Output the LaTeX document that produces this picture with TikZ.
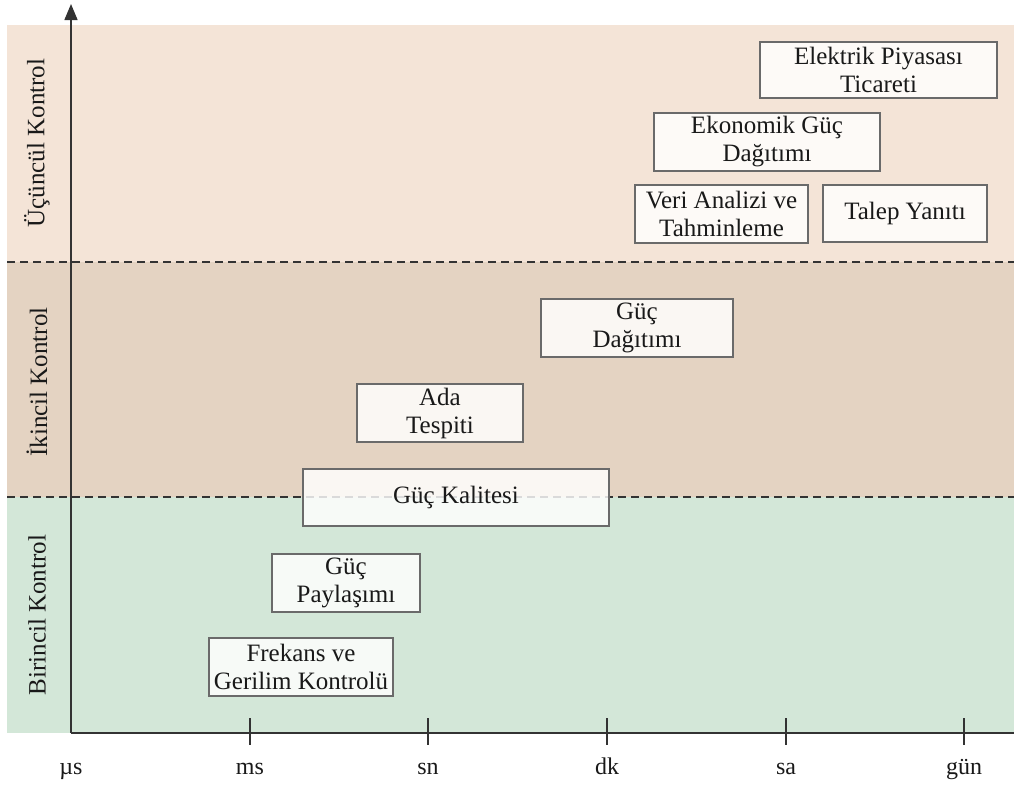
\documentclass[tikz,border=0pt]{standalone}
\usepackage{fontspec}
\setmainfont{Liberation Serif}
\usetikzlibrary{arrows.meta}
\definecolor{bandtop}{HTML}{F4E4D7}
\definecolor{bandmid}{HTML}{E4D3C2}
\definecolor{bandlow}{HTML}{D3E7D8}
\definecolor{boxline}{HTML}{6A6A6A}
\definecolor{axisline}{HTML}{333333}
\begin{document}
\begin{tikzpicture}[x=1pt,y=-1pt,
  task/.style={draw=boxline,line width=1.4pt,fill=white,fill opacity=0.82,text opacity=1,
    rectangle,inner sep=0pt,align=center,font=\fontsize{25}{28}\selectfont,text=black!90},
  level/.style={rotate=90,font=\fontsize{25}{28}\selectfont,text=black!90},
  tick/.style={line width=1.5pt,draw=axisline},
  ticklabel/.style={font=\fontsize{24}{28}\selectfont,text=black!90,anchor=base},
  divider/.style={line width=1.5pt,draw=axisline,dash pattern=on 8pt off 5pt}]
\useasboundingbox (0,0) rectangle (1014,785);
% control level bands
\fill[bandtop] (7,25) rectangle (1014,262);
\fill[bandmid] (7,262) rectangle (1014,497);
\fill[bandlow] (7,497) rectangle (1014,733);
\draw[divider] (7,262) -- (1014,262);
\draw[divider] (7,497) -- (1014,497);
% level labels
\node[level] (l3) at (37,143) {Üçüncül Kontrol};
\node[level] (l2) at (37,382) {İkincil Kontrol};
\node[level] (l1) at (37,615) {Birincil Kontrol};
% axes
\coordinate (o) at (71,733);
\coordinate (ytop) at (71,4);
\coordinate (xend) at (1014,733);
\draw[line width=1.5pt,draw=axisline,-{Triangle[length=16pt,width=13pt]}] (o) -- (ytop);
\draw[line width=1.5pt,draw=axisline] (o) -- (xend);
% time scale ticks and labels
\foreach \x/\lab/\nm in {250/ms/ms,428/sn/sn,607/dk/dk,786/sa/sa,964/gün/gun}{
  \coordinate (t\nm) at (\x,733);
  \draw[tick] (\x,718) -- (\x,745);
  \node[ticklabel] (lab\nm) at (\x,774) {\lab};
}
\node[ticklabel] (labus) at (71,774) {µs};
% tertiary control tasks
\node[task,minimum width=237pt,minimum height=56pt] (ticaret) at (878.5,70) {Elektrik Piyasası\\Ticareti};
\node[task,minimum width=226pt,minimum height=58pt] (ekonomik) at (767,142) {Ekonomik Güç\\Dağıtımı};
\node[task,minimum width=173pt,minimum height=58pt] (veri) at (721.5,214) {Veri Analizi ve\\Tahminleme};
\node[task,minimum width=164pt,minimum height=57pt] (talep) at (905,213.5) {Talep Yanıtı};
% secondary control tasks
\node[task,minimum width=192pt,minimum height=58pt] (dagitim) at (637,328) {Güç\\Dağıtımı};
\node[task,minimum width=166pt,minimum height=58pt] (ada) at (440,413) {Ada\\Tespiti};
\node[task,minimum width=306pt,minimum height=57pt] (kalite) at (456,497.5) {Güç Kalitesi};
% primary control tasks
\node[task,minimum width=148pt,minimum height=58pt] (paylasim) at (346,583) {Güç\\Paylaşımı};
\node[task,minimum width=184pt,minimum height=58pt] (frekans) at (301,667) {Frekans ve\\Gerilim Kontrolü};
\end{tikzpicture}
\end{document}
